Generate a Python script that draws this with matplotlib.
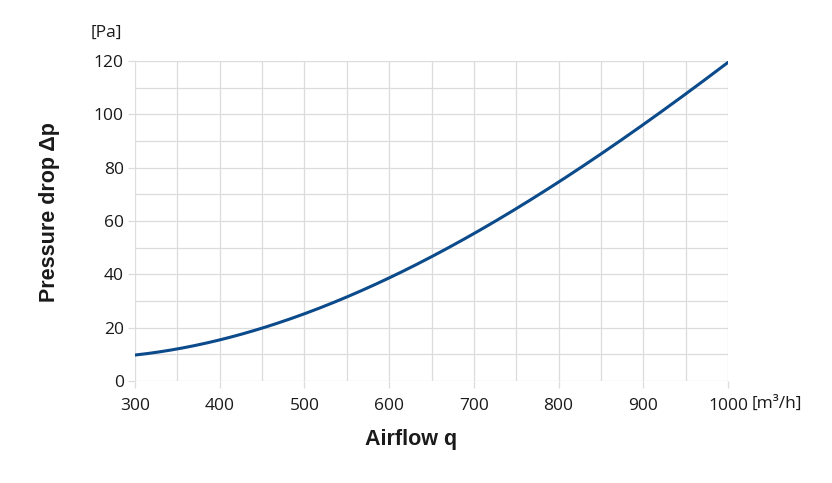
import matplotlib
matplotlib.use("Agg")
import matplotlib.pyplot as plt
import numpy as np

airflow = [300, 350, 400, 450, 500, 550, 600, 650, 700, 750, 800, 850, 900, 950, 1000]
pressure = [10.3, 12.0, 15.0, 19.3, 24.3, 31.5, 39.4, 47.7, 56.0, 64.6, 74.2, 84.3, 95.4, 107.9, 120.0]
x_ticks = [300, 400, 500, 600, 700, 800, 900, 1000]
y_ticks = [0, 20, 40, 60, 80, 100, 120]

tick_font = "Open Sans"
grid_c = "#dcdcdc"
line_c = "#0b4a8b"
text_c = "#1a1a1a"

fig = plt.figure(figsize=(8.32, 4.83), dpi=100)
ax = fig.add_axes([135/832, 1-381/483, (728-135)/832, (381-61)/483])

xs = np.array(airflow, dtype=float)
ys = np.array(pressure, dtype=float)
coef = np.polyfit(xs, ys, 3)
xf = np.linspace(300, 1000, 300)
ax.plot(xf, np.polyval(coef, xf), color=line_c, lw=2.2, solid_capstyle="round", zorder=3)

ax.set_xlim(300, 1000)
ax.set_ylim(0, 120)
ax.set_xticks(x_ticks)
ax.set_yticks(y_ticks)
ax.set_xticks(np.arange(350, 1000, 100), minor=True)
ax.set_yticks(np.arange(10, 120, 20), minor=True)
ax.grid(True, which="both", color=grid_c, lw=0.9)
ax.set_axisbelow(True)
for s in ax.spines.values():
    s.set_visible(False)
ax.tick_params(axis="both", which="major", length=5, width=0.9, color=grid_c,
               labelsize=12.5, labelcolor=text_c)
ax.tick_params(axis="x", which="major", pad=7)
ax.tick_params(axis="y", which="major", pad=3)
ax.tick_params(axis="both", which="minor", length=0)
for lab in ax.get_xticklabels() + ax.get_yticklabels():
    lab.set_fontfamily(tick_font)

fig.text(91/832, 1-33/483, "[Pa]", fontsize=12.5, family=tick_font, color=text_c,
         ha="left", va="center")
fig.text(752/832, 1-404/483, "[m³/h]", fontsize=12.5, family=tick_font, color=text_c,
         ha="left", va="center")
fig.text(50/832, 1-212/483, "Pressure drop Δp", fontsize=15.5, fontweight="bold",
         family=["Liberation Sans", "DejaVu Sans"], color=text_c, rotation=90,
         ha="center", va="center")
fig.text(411/832, 1-440/483, "Airflow q", fontsize=15.5, fontweight="bold",
         family=["Liberation Sans", "DejaVu Sans"], color=text_c,
         ha="center", va="center")

fig.savefig("out.png", dpi=100)
